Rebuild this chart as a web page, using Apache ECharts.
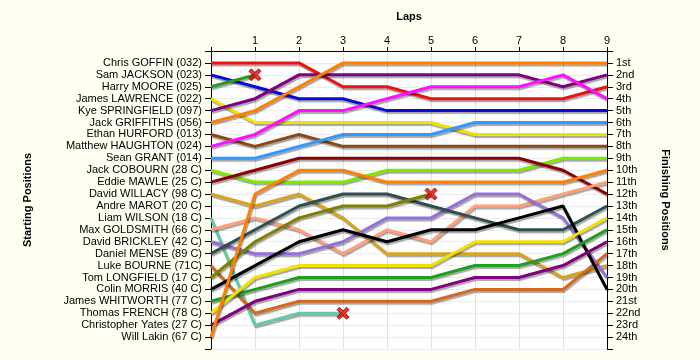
<!DOCTYPE html>
<html><head><meta charset="utf-8">
<script src="https://cdn.jsdelivr.net/npm/echarts@6/dist/echarts.min.js"></script>
<style>html,body{margin:0;padding:0;background:#fffff2;}#c{width:700px;height:360px;}</style>
</head><body><div id="c"></div>
<script>
const lapTicks = [1,2,3,4,5,6,7,8,9];
const startNames = ['Chris GOFFIN (032)','Sam JACKSON (023)','Harry MOORE (025)','James LAWRENCE (022)','Kye SPRINGFIELD (097)','Jack GRIFFITHS (056)','Ethan HURFORD (013)','Matthew HAUGHTON (024)','Sean GRANT (014)','Jack COBOURN (28 C)','Eddie MAWLE (25 C)','David WILLACY (98 C)','Andre MAROT (20 C)','Liam WILSON (18 C)','Max GOLDSMITH (66 C)','David BRICKLEY (42 C)','Daniel MENSE (89 C)','Luke BOURNE (71C)','Tom LONGFIELD (17 C)','Colin MORRIS (40 C)','James WHITWORTH (77 C)','Thomas FRENCH (78 C)','Christopher Yates (27 C)','Will Lakin (67 C)'];
const finishLabels = ['1st','2nd','3rd','4th','5th','6th','7th','8th','9th','10th','11th','12th','13th','14th','15th','16th','17th','18th','19th','20th','21st','22nd','23rd','24th'];

// position at each lap (lap 0 = grid); shorter arrays = retired
const goffin      = [1,1,1,3,3,4,4,4,4,3];
const jackson     = [2,3,4,4,5,5,5,5,5,5];
const moore       = [3,2];
const lawrence    = [4,6,6,6,6,6,7,7,7,7];
const springfield = [5,4,2,2,2,2,2,2,3,2];
const griffiths   = [6,5,3,1,1,1,1,1,1,1];
const hurford     = [7,8,7,8,8,8,8,8,8,8];
const haughton    = [8,7,5,5,4,3,3,3,2,4];
const grant       = [9,9,8,7,7,7,6,6,6,6];
const cobourn     = [10,11,11,11,10,10,10,10,9,9];
const mawle       = [11,10,9,9,9,9,9,9,10,12];
const willacy     = [12,13,12,14,17,17,17,17,19,18];
const wilson      = [14,23,22,22];
const goldsmith   = [15,14,15,17,15,16,13,13,12,11];
const brickley    = [16,17,17,16,14,14,12,12,14,19];
const mense       = [17,15,13,12,12,13,14,15,15,13];
const bourne      = [18,22,21,21,21,21,20,20,20,17];
const longfield   = [19,16,14,13,13,12];
const morris      = [20,18,16,15,16,15,15,14,13,20];
const whitworth   = [21,20,19,19,19,19,18,18,17,15];
const french      = [22,19,18,18,18,18,16,16,16,14];
const yates       = [23,21,20,20,20,20,19,19,18,16];
const lakin       = [24,12,10,10,11,11,11,11,11,10];

const driverRuns = [goffin,jackson,moore,lawrence,springfield,griffiths,hurford,haughton,grant,cobourn,mawle,willacy,wilson,goldsmith,brickley,mense,bourne,longfield,morris,whitworth,french,yates,lakin];
const driverColors = ['#ee1111','#0a0ad8','#1f9e1f','#f2e200','#800080','#ff8000','#8b4a14','#ff10ff','#3399ff','#80e800','#8b0000','#d9a520','#66c9a6','#ffa07a','#9370db','#2f4f4f','#d2691e','#808000','#000000','#1f9e1f','#f2e200','#800080','#ff8000'];

const FONT = 'Liberation Sans, Arial, sans-serif';
const series = [];
const retired = [];
driverRuns.forEach((run, i) => {
  series.push({
    type: 'line',
    data: run.map((p, lap) => [lap, p]),
    showSymbol: false,
    symbol: 'none',
    animation: false,
    lineStyle: {width: 3, color: driverColors[i], shadowColor: 'rgba(0,0,0,0.35)', shadowBlur: 1, shadowOffsetX: 1, shadowOffsetY: 2},
    z: 2
  });
  if (run.length < 10) retired.push([run.length - 1, run[run.length - 1]]);
});
series.push({
  type: 'scatter',
  data: retired,
  symbol: 'path://M2,0 L5,3 L8,0 L10,2 L7,5 L10,8 L8,10 L5,7 L2,10 L0,8 L3,5 L0,2 Z',
  symbolSize: 12,
  itemStyle: {color: '#ee0000', borderColor: '#700000', borderWidth: 1},
  animation: false,
  z: 5
});

const chart = echarts.init(document.getElementById('c'), null, {renderer: 'canvas'});
chart.setOption({
  backgroundColor: '#fffff2',
  animation: false,
  grid: {left: 211, right: 93, top: 51, bottom: 11, show: true, backgroundColor: '#ffffff', borderWidth: 0},
  xAxis: {
    type: 'value', position: 'top', min: 0, max: 9, interval: 1,
    name: 'Laps', nameLocation: 'middle', nameGap: 29,
    nameTextStyle: {fontFamily: FONT, fontSize: 11, fontWeight: 'bold', color: '#000'},
    axisLine: {show: true, lineStyle: {color: '#000', width: 1}},
    axisTick: {show: true, length: 4, lineStyle: {color: '#000'}},
    axisLabel: {margin: 5, fontFamily: FONT, fontSize: 11, color: '#000', formatter: v => lapTicks.includes(v) ? String(v) : ''},
    splitLine: {show: true, lineStyle: {color: '#e2e2e2', width: 1}}
  },
  yAxis: [{
    type: 'value', position: 'left', inverse: true, min: 0, max: 25, interval: 1,
    name: 'Starting Positions', nameLocation: 'middle', nameGap: 178,
    nameTextStyle: {fontFamily: FONT, fontSize: 11, fontWeight: 'bold', color: '#000'},
    axisLine: {show: true, lineStyle: {color: '#000', width: 1}},
    axisTick: {show: true, length: 6, lineStyle: {color: '#000'}},
    axisLabel: {margin: 9, fontFamily: FONT, fontSize: 11, color: '#000', formatter: v => startNames[v - 1] || ''},
    splitLine: {show: true, lineStyle: {color: '#ececec', width: 1}}
  }, {
    type: 'value', position: 'right', inverse: true, min: 0, max: 25, interval: 1,
    name: 'Finishing Positions', nameLocation: 'middle', nameGap: 53, nameRotate: -90,
    nameTextStyle: {fontFamily: FONT, fontSize: 11, fontWeight: 'bold', color: '#000'},
    axisLine: {show: true, lineStyle: {color: '#000', width: 1}},
    axisTick: {show: true, length: 6, lineStyle: {color: '#000'}},
    axisLabel: {margin: 9, fontFamily: FONT, fontSize: 11, color: '#000', formatter: v => finishLabels[v - 1] || ''},
    splitLine: {show: false}
  }],
  series: series
});
</script>
</body></html>
